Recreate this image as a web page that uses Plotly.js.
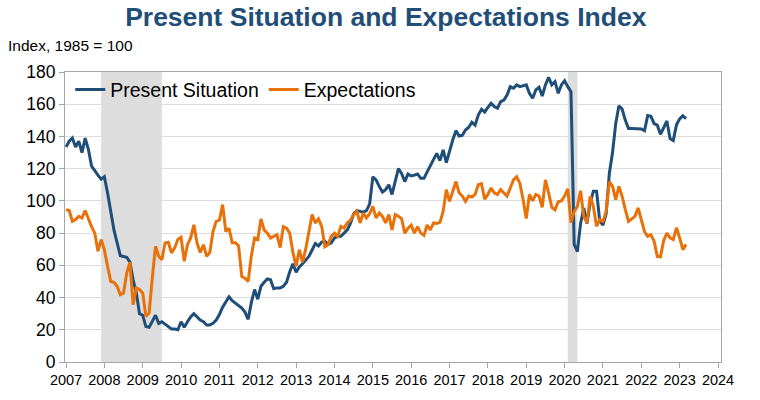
<!DOCTYPE html>
<html>
<head>
<meta charset="utf-8">
<script src="https://cdn.plot.ly/plotly-3.0.1.min.js"></script>
<style>html,body{margin:0;padding:0;background:#fff;}#chart{width:760px;height:400px;}</style>
</head>
<body>
<div id="chart"></div>
<script>
// Monthly data, Jan 2007 .. Mar 2023
const startYear = 2007;
const presentSituation = [
  133.5, 137, 139, 133.5, 137, 130, 139, 132, 121.5, 118.5, 116, 113.5,      // 2007
  115, 105, 94, 82, 74, 66, 65.5, 65, 62, 51, 43, 30,                        // 2008
  29, 22, 21.5, 25, 29, 24, 25, 23.5, 22, 20.5, 20.5, 20,                    // 2009
  25, 21.5, 25, 28, 30, 28, 26, 25, 23, 23, 24, 26,                          // 2010
  29.5, 34, 37.5, 40.5, 38, 36.5, 35, 33.5, 31, 26.5, 37, 45,                // 2011
  39, 47, 49.5, 51.5, 51, 45.5, 46, 46, 47, 49.5, 56, 61,                    // 2012
  55.7, 59, 61, 63, 65.5, 69.5, 73.5, 72, 74.5, 75, 73, 74,                  // 2013
  77, 78, 78, 80, 82, 86, 92, 94, 93.5, 93, 94, 98,                          // 2014
  115, 113, 109, 105.5, 107, 110, 104, 113, 120, 117, 112, 116.7,            // 2015
  115.5, 116, 116.7, 114, 114, 118, 122, 126.4, 129.5, 125, 131.6, 123.7,    // 2016
  131.6, 137.8, 143.6, 140.3, 140.7, 144, 145.7, 148.8, 147, 153.3, 156.8, 155.2, // 2017
  158, 160.6, 158.5, 157.5, 161.6, 162.6, 165.7, 170.9, 169.9, 172, 170.9, 171.3, // 2018
  172, 166.8, 163.7, 168.9, 170.5, 165.1, 172, 176.7, 172, 174, 166.8, 172,  // 2019
  174.6, 170.9, 167.8, 73, 68.5, 86, 95.5, 86, 98.7, 106, 106, 87.5,         // 2020
  85, 92, 117, 130, 148, 159, 157, 150, 145, 145, 145, 144.8,                // 2021
  144.6, 143.5, 153, 152.5, 148, 147, 141.3, 145.4, 149.6, 138.7, 137.4, 147.2, // 2022
  150.9, 152.8, 151.1                                                        // 2023
];
const expectations = [
  94.6, 94, 87.3, 88.4, 90.4, 89.4, 94, 88.4, 84, 80, 68.7, 76,              // 2007
  69.7, 59.4, 50, 49.5, 47, 41.8, 42.8, 55.2, 61.9, 35.6, 46, 45,            // 2008
  42.8, 28.3, 30.4, 52, 71.8, 65.6, 63.5, 73.9, 74.3, 67.7, 70.8, 76,        // 2009
  77.4, 62.5, 72.8, 77, 85.2, 73.9, 68, 72.8, 65.6, 68, 81, 87.3,            // 2010
  88, 97.7, 81, 83, 74, 74, 72, 53, 52, 50, 66, 77,                          // 2011
  76, 88.8, 82, 80, 77, 78, 79, 71, 84, 83, 80, 68,                          // 2012
  59.4, 69.7, 62, 70, 81, 91.5, 86.3, 88.8, 84.2, 71.5, 72.8, 78,            // 2013
  80, 78, 84.2, 83.2, 86.3, 88, 91.5, 93.5, 86.3, 92.5, 89.4, 92,            // 2014
  96.6, 89.4, 92.5, 90.4, 86.3, 91.5, 82, 91.5, 90.4, 89, 80, 83,            // 2015
  85, 80, 84, 80, 78.6, 85, 82, 86.3, 86, 86.7, 93.5, 107,                   // 2016
  99.7, 106, 112, 105, 103, 99.7, 103, 102.4, 104, 110, 110.7, 101,          // 2017
  104, 108, 105, 104, 107, 105, 103, 108, 113, 115, 111, 101,                // 2018
  89, 104, 100, 104, 103, 96, 113, 105, 96, 94.5, 99.5, 100,                 // 2019
  103, 107.5, 86.5, 93.5, 96.6, 106.3, 90.4, 86.3, 102.8, 96.6, 84.2, 88.4,  // 2020
  87.3, 93.5, 112, 109, 100.8, 109, 102.8, 94.6, 87.3, 88.8, 90.4, 95.6,     // 2021
  88.4, 81, 78, 79, 75, 65.6, 65.3, 75.5, 80, 77, 76, 83.3,                  // 2022
  77, 69.7, 73                                                               // 2023
];
const yearTicks = [2007,2008,2009,2010,2011,2012,2013,2014,2015,2016,2017,2018,2019,2020,2021,2022,2023,2024];
const recessions = [[2007 + 11/12, 2009.5], [2020 + 1/12, 2020 + 4/12]];

const months = presentSituation.map((_, i) => startYear + i / 12);

const FONT = 'Liberation Sans, Arial, sans-serif';
const traces = [
  {x: months, y: presentSituation, type: 'scatter', mode: 'lines', name: 'Present Situation',
   line: {color: '#1F4E79', width: 3}},
  {x: months, y: expectations, type: 'scatter', mode: 'lines', name: 'Expectations',
   line: {color: '#E8710A', width: 3}}
];

const shapes = recessions.map(r => ({
  type: 'rect', xref: 'x', yref: 'paper', x0: r[0], x1: r[1], y0: 0, y1: 1,
  fillcolor: '#DDDDDD', line: {width: 0}, layer: 'below'
}));

const layout = {
  width: 760, height: 400,
  margin: {l: 65, r: 39, t: 72, b: 38},
  paper_bgcolor: '#fff', plot_bgcolor: '#fff',
  font: {family: FONT, color: '#000'},
  title: {text: '<b>Present Situation and Expectations Index</b>',
          font: {family: FONT, size: 26.5, color: '#1F4E79'},
          x: 0.489, xanchor: 'center', xref: 'paper', y: 0.958, yanchor: 'middle', yref: 'container'},
  xaxis: {range: [2006.974, 2024.078], tickmode: 'array', tickvals: yearTicks,
          ticktext: yearTicks.map(String), ticks: 'outside', ticklen: 5, tickcolor: '#A6A6A6',
          showline: true, linecolor: '#A6A6A6', linewidth: 1, mirror: true, showgrid: false,
          zeroline: false, tickfont: {family: FONT, size: 14.5, color: '#000'}},
  yaxis: {range: [0, 180], dtick: 20, tick0: 0, ticks: 'outside', ticklen: 5, tickcolor: '#A6A6A6',
          showline: true, linecolor: '#A6A6A6', linewidth: 1, mirror: true,
          showgrid: true, gridcolor: '#DCDCDC', gridwidth: 1, zeroline: false,
          tickfont: {family: FONT, size: 17.5, color: '#000'}},
  showlegend: true,
  legend: {orientation: 'h', x: 0.008, xanchor: 'left', y: 1.006, yanchor: 'top',
           bgcolor: 'rgba(0,0,0,0)', font: {family: FONT, size: 19.5, color: '#000'}},
  shapes: shapes,
  annotations: [{text: 'Index, 1985 = 100', xref: 'paper', yref: 'paper', x: -0.09, y: 1.093,
                 xanchor: 'left', yanchor: 'middle', showarrow: false,
                 font: {family: FONT, size: 15.5, color: '#000'}}]
};

Plotly.newPlot('chart', traces, layout, {displayModeBar: false, staticPlot: true});
</script>
</body>
</html>
